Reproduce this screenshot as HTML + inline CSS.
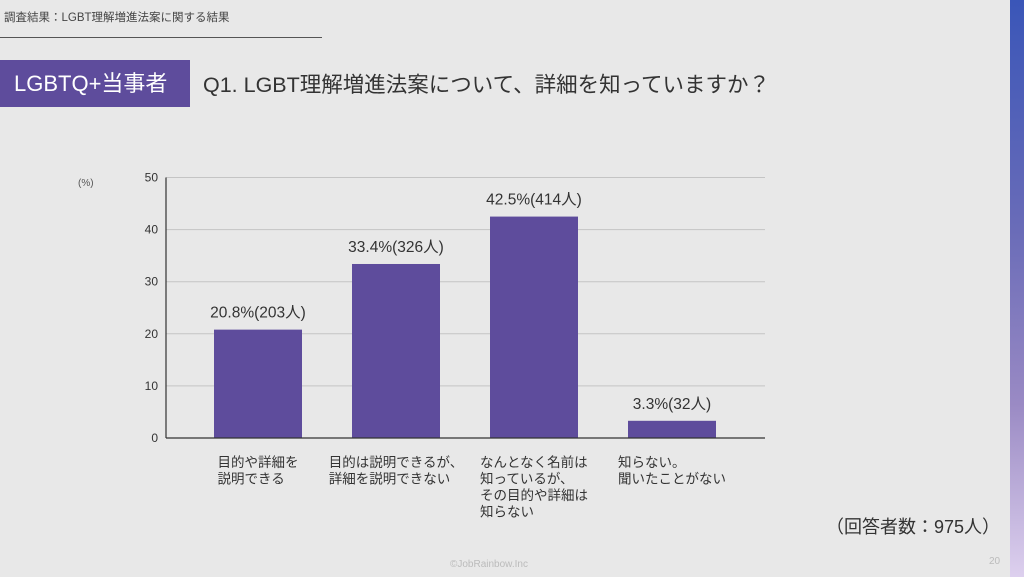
<!DOCTYPE html>
<html><head><meta charset="utf-8"><style>
html,body{margin:0;padding:0;}
body{width:1024px;height:577px;position:relative;overflow:hidden;background:#e8e8e8;font-family:"Liberation Sans","Noto Sans CJK JP",sans-serif;color:#333;}
.abs{position:absolute;}
</style></head><body>
<div class="abs" style="left:4px;top:9px;font-size:11.5px;color:#444;">調査結果：LGBT理解増進法案に関する結果</div>
<div class="abs" style="left:0;top:37px;width:322px;height:1px;background:#555;"></div>
<div class="abs" style="left:0;top:60px;width:190px;height:47px;background:#5e4c9c;color:#fff;font-size:22px;line-height:47px;padding-left:14px;box-sizing:border-box;">LGBTQ+当事者</div>
<div class="abs" style="left:203px;top:68px;font-size:21.5px;color:#333;">Q1. LGBT理解増進法案について、詳細を知っていますか？</div>
<div class="abs" style="left:1010px;top:0;width:14px;height:577px;background:linear-gradient(#3a56b8,#6a6cb8 40%,#9a8ac4 70%,#ddd0ee);"></div>
<svg class="abs" style="left:0;top:0" width="1024" height="577">
<g id="g"></g>
</svg>
<div class="abs" style="left:826px;top:513px;font-size:18px;color:#333;">（回答者数：975人）</div>
<div class="abs" style="left:450px;top:559px;font-size:10px;color:#bbb;">©JobRainbow.Inc</div>
<div class="abs" style="left:989px;top:556px;font-size:10px;color:#bbb;">20</div>
<script>
const categories=[["目的や詳細を","説明できる"],["目的は説明できるが、","詳細を説明できない"],["なんとなく名前は","知っているが、","その目的や詳細は","知らない"],["知らない。","聞いたことがない"]];
const values=[20.8,33.4,42.5,3.3];
const counts=[203,326,414,32];
const ticks=[0,10,20,30,40,50];
const x0=166,x1=765,yTop=177.5,yBot=438,vmax=50;
const y=v=>yBot-(v/vmax)*(yBot-yTop);
const band=138,barW=88,first=48;
const bx=i=>x0+first+band*i;
const g=document.getElementById('g');const NS='http://www.w3.org/2000/svg';
function mk(t,a){const e=document.createElementNS(NS,t);for(const k in a)e.setAttribute(k,a[k]);g.appendChild(e);return e;}
ticks.forEach(t=>{
 if(t>0){const l=mk('line',{x1:x0,x2:x1,y1:y(t),y2:y(t),stroke:'#c4c4c4','stroke-width':1});
 
 }
 const tx=mk('text',{x:x0-8,y:y(t)+4,'text-anchor':'end','font-size':12,fill:'#333'});tx.textContent=t;
 
 
});
const u=mk('text',{x:78,y:186,'font-size':10,fill:'#555'});u.textContent='(%)';


values.forEach((v,i)=>{
 const r=mk('rect',{x:bx(i),y:y(v),width:barW,height:yBot-y(v),fill:'#5e4c9c'});
 
 
 const lb=mk('text',{x:bx(i)+barW/2,y:y(v)-12,'text-anchor':'middle','font-size':15.5,fill:'#333'});
 lb.textContent=v.toFixed(1)+'%('+counts[i]+'人)';
 
 
 const els=categories[i].map((s,j)=>{
  const c=mk('text',{x:0,y:467+j*16.5,'font-size':13.5,fill:'#333'});c.textContent=s;
  
  
  return c;
 });
 const w=Math.max(...els.map(e=>e.getComputedTextLength()));
 els.forEach(e=>e.setAttribute('x',bx(i)+barW/2-w/2));
});
const ax=mk('line',{x1:x0,x2:x0,y1:yTop,y2:yBot,stroke:'#333','stroke-width':1.2});


const bx2=mk('line',{x1:x0,x2:x1,y1:yBot,y2:yBot,stroke:'#333','stroke-width':1.2});


</script>
</body></html>
